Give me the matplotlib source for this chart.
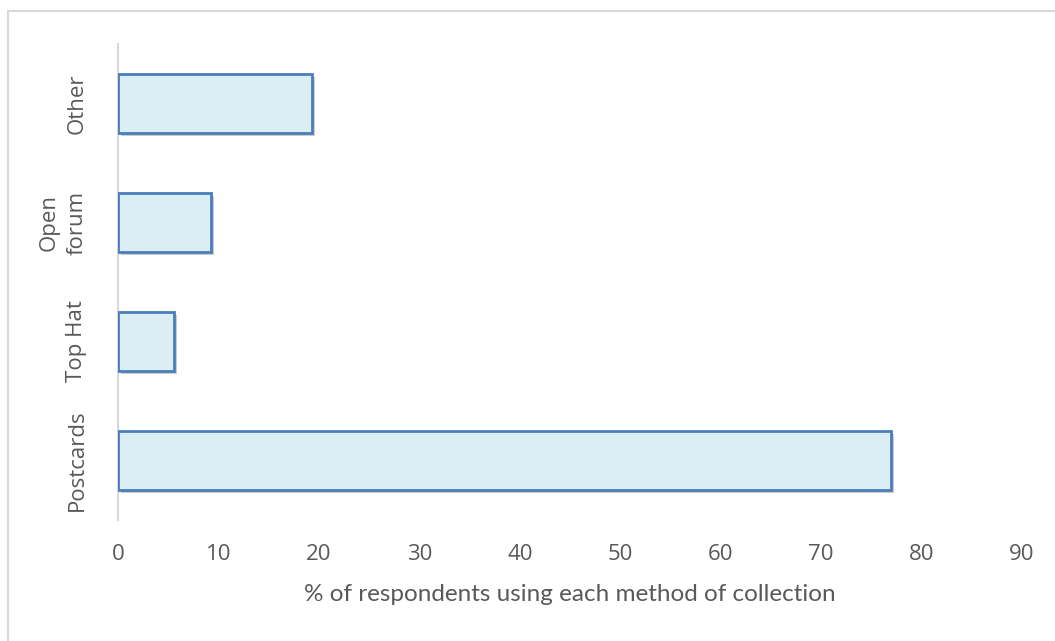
import numpy as np
import matplotlib.pyplot as plt
import matplotlib.patheffects as pe
from matplotlib.patches import Rectangle

# data
methods = ["Postcards", "Top Hat", "Open\nforum", "Other"]
percent = [77.0, 5.6, 9.3, 19.3]
x_ticks = [0, 10, 20, 30, 40, 50, 60, 70, 80, 90]

text_grey = "#595959"
edge_blue = "#4a7ebb"
fill_blue = "#dbeef4"

fig = plt.figure(figsize=(10.55, 6.41), dpi=100)
ax = fig.add_axes([118 / 1055, 1 - 520 / 641, (1022 - 118) / 1055, (520 - 44) / 641])

# light chart border like the spreadsheet frame
fig.patches.append(Rectangle((8 / 1055, -0.1), 1.2, 1 - 11 / 641 + 0.1,
                             transform=fig.transFigure, fill=False,
                             edgecolor="#d9d9d9", linewidth=1.5))

y = np.arange(len(methods))
bars = ax.barh(y, percent, height=0.5, color=fill_blue, edgecolor=edge_blue,
               linewidth=2, zorder=3)
for b in bars:
    b.set_path_effects([pe.SimplePatchShadow(offset=(2, -2), shadow_rgbFace="#999999", alpha=0.5),
                        pe.Normal()])

ax.set_xlim(0, 90)
ax.set_ylim(-0.5, 3.5)
ax.set_xticks(x_ticks)
ax.set_xticklabels([str(t) for t in x_ticks], fontsize=16, color=text_grey, family="Open Sans")
ax.set_yticks(y)
ax.set_yticklabels(methods, rotation=90, va="center", ha="right", multialignment="center",
                   fontsize=16, color=text_grey, family="Open Sans", linespacing=1.4)
ax.tick_params(axis="both", length=0)
ax.tick_params(axis="x", pad=17)
ax.tick_params(axis="y", pad=22)

for s in ["top", "right", "bottom"]:
    ax.spines[s].set_visible(False)
ax.spines["left"].set_color("#d9d9d9")
ax.spines["left"].set_linewidth(1.5)

ax.set_xlabel("% of respondents using each method of collection", fontsize=17.5,
              color=text_grey, family="Lato", labelpad=14)

fig.savefig("out.png", dpi=100)
